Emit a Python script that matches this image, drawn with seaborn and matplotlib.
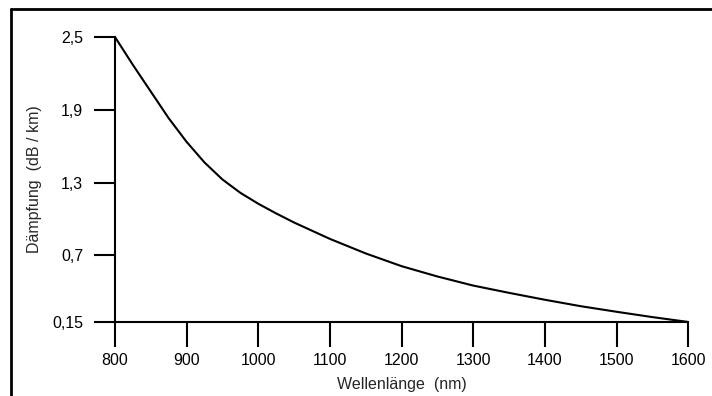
import pandas as pd
import matplotlib.pyplot as plt
import seaborn as sns
from matplotlib.lines import Line2D

# values
wavelength = [800, 825, 850, 875, 900, 925, 950, 975, 1000, 1025, 1050,
              1100, 1150, 1200, 1250, 1300, 1350, 1400, 1450, 1500, 1550, 1600]
attenuation = [2.5, 2.27, 2.05, 1.83, 1.635, 1.465, 1.325, 1.215, 1.125, 1.045, 0.97,
               0.835, 0.715, 0.61, 0.525, 0.45, 0.39, 0.333, 0.28, 0.234, 0.19, 0.15]
x_ticks = [800, 900, 1000, 1100, 1200, 1300, 1400, 1500, 1600]
y_ticks = [0.15, 0.7, 1.3, 1.9, 2.5]
y_labels = ["0,15", "0,7", "1,3", "1,9", "2,5"]

df = pd.DataFrame({"nm": wavelength, "db": attenuation})

sns.set_style("ticks")
plt.rcParams["font.family"] = ["Liberation Sans", "DejaVu Sans"]

fig = plt.figure(figsize=(7.12, 3.96), dpi=100)
ax = fig.add_axes([0.1615, 0.187, 0.805, 0.7195])
sns.lineplot(data=df, x="nm", y="db", ax=ax, color="black", linewidth=1.5)

ax.set_xlim(800, 1600)
ax.set_ylim(0.15, 2.5)
ax.set_xticks(x_ticks)
ax.set_xticklabels([str(t) for t in x_ticks])
ax.set_yticks(y_ticks)
ax.set_yticklabels(y_labels)
ax.tick_params(axis="x", length=18, width=1.5, labelsize=11.5, pad=4, colors="black")
ax.tick_params(axis="y", length=15, width=1.5, labelsize=11.5, pad=8, colors="black")
sns.despine(ax=ax)
for s in ["left", "bottom"]:
    ax.spines[s].set_linewidth(1.5)
    ax.spines[s].set_color("black")

ax.set_xlabel("Wellenlänge  (nm)", fontsize=11.5, labelpad=7)
ax.set_ylabel("Dämpfung  (dB / km)", fontsize=11.5, labelpad=7)

# outer frame (top and left edges visible in the reference)
fig.add_artist(Line2D([11 / 712, 1], [1 - 9 / 396, 1 - 9 / 396],
                      transform=fig.transFigure, color="black", linewidth=2))
fig.add_artist(Line2D([11 / 712, 11 / 712], [0, 1 - 9 / 396],
                      transform=fig.transFigure, color="black", linewidth=2))

fig.savefig("out.png", dpi=100)
